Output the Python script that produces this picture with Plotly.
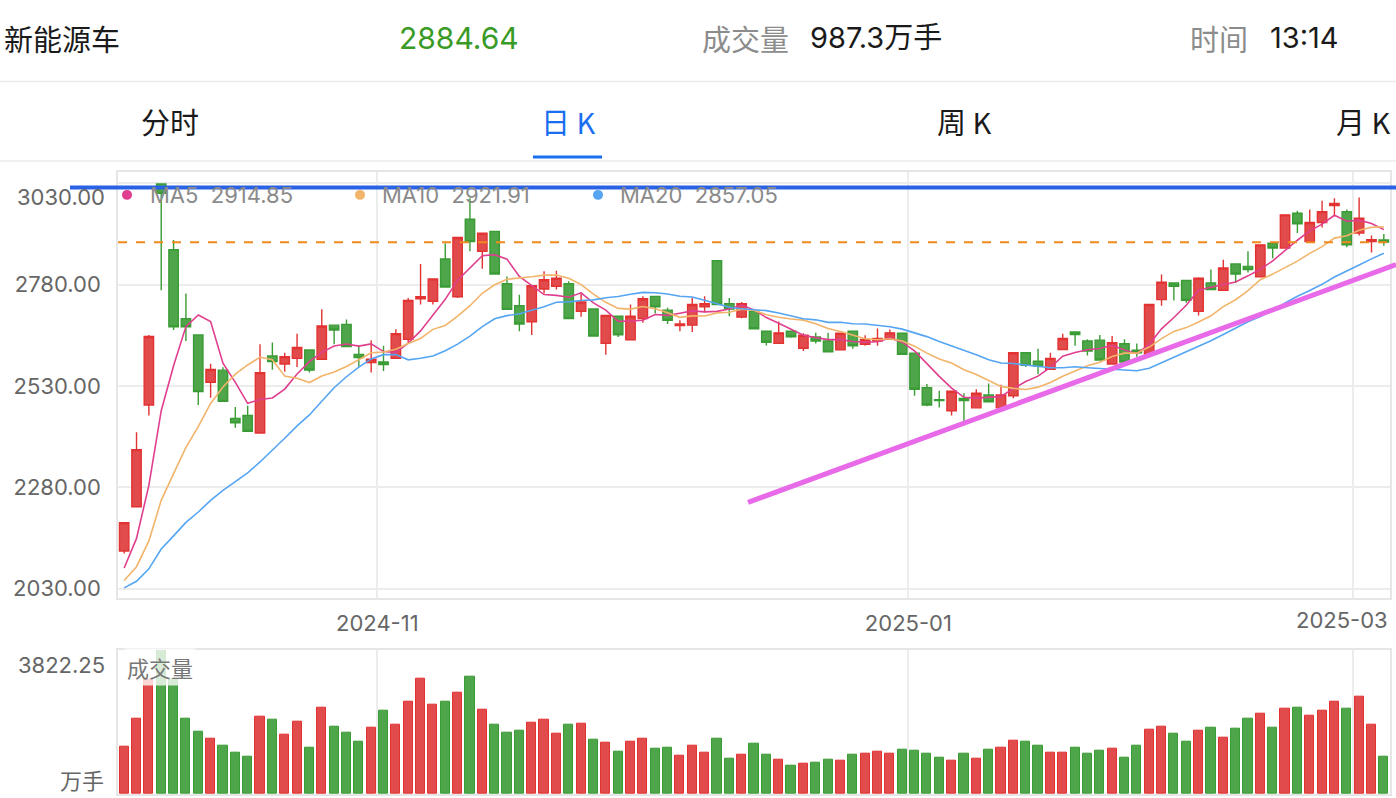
import plotly.graph_objects as go
import pandas as pd

# ---------------- data ----------------
prior_close = [2045, 2040, 2030, 2025, 2010, 2005, 2000, 1995, 1990, 2000,
               2030, 2015, 2005, 2020, 2025, 2008, 1997, 2085, 2122]

open_ = [2123, 2232, 2483, 3028, 2866, 2696, 2656, 2539, 2569, 2450,
         2457, 2414, 2604, 2584, 2598, 2619, 2596, 2680, 2682, 2608,
         2588, 2589, 2598, 2645, 2745, 2739, 2843, 2750, 2941, 2862,
         2911, 2782, 2728, 2688, 2769, 2776, 2782, 2714, 2720, 2635,
         2702, 2644, 2696, 2751, 2717, 2679, 2680, 2725, 2839, 2733,
         2700, 2714, 2665, 2635, 2665, 2623, 2651, 2641, 2619, 2665,
         2633, 2641, 2645, 2660, 2611, 2526, 2496, 2469, 2499, 2476,
         2508, 2476, 2506, 2612, 2591, 2571, 2620, 2663, 2641, 2643,
         2584, 2634, 2618, 2608, 2743, 2784, 2790, 2714, 2784, 2766,
         2831, 2825, 2799, 2882, 2870, 2956, 2886, 2933, 2975, 2960,
         2907, 2886, 2890]
high = [2193, 2416, 2656, 3030, 2890, 2758, 2656, 2585, 2576, 2478,
        2481, 2633, 2637, 2612, 2659, 2619, 2719, 2680, 2694, 2631,
        2643, 2629, 2670, 2747, 2831, 2794, 2882, 2896, 2993, 2907,
        2912, 2800, 2755, 2777, 2813, 2814, 2788, 2761, 2720, 2704,
        2702, 2731, 2751, 2751, 2723, 2692, 2747, 2751, 2839, 2747,
        2737, 2714, 2665, 2689, 2667, 2660, 2661, 2661, 2660, 2667,
        2655, 2672, 2669, 2661, 2611, 2535, 2518, 2517, 2512, 2522,
        2536, 2533, 2614, 2612, 2622, 2612, 2659, 2663, 2645, 2656,
        2653, 2645, 2635, 2731, 2805, 2784, 2790, 2798, 2817, 2841,
        2831, 2862, 2878, 2884, 2952, 2962, 2965, 2987, 2993, 2965,
        2995, 2901, 2905]
low = [2117, 2232, 2457, 2766, 2668, 2641, 2483, 2501, 2492, 2427,
       2418, 2414, 2570, 2565, 2577, 2563, 2596, 2633, 2627, 2577,
       2563, 2567, 2598, 2637, 2731, 2731, 2774, 2747, 2862, 2819,
       2804, 2719, 2665, 2656, 2758, 2768, 2696, 2701, 2653, 2607,
       2651, 2644, 2686, 2709, 2683, 2665, 2663, 2712, 2731, 2702,
       2697, 2671, 2630, 2635, 2649, 2616, 2635, 2614, 2619, 2622,
       2629, 2629, 2645, 2608, 2506, 2480, 2477, 2457, 2441, 2476,
       2491, 2476, 2500, 2577, 2559, 2571, 2620, 2629, 2605, 2594,
       2584, 2589, 2602, 2604, 2728, 2741, 2735, 2704, 2766, 2766,
       2784, 2810, 2799, 2845, 2870, 2907, 2886, 2921, 2948, 2872,
       2901, 2859, 2876]
close = [2193, 2373, 2652, 3005, 2676, 2676, 2516, 2571, 2492, 2439,
         2418, 2563, 2590, 2602, 2625, 2569, 2678, 2668, 2627, 2600,
         2596, 2583, 2659, 2741, 2750, 2794, 2774, 2896, 2886, 2907,
         2806, 2719, 2683, 2777, 2792, 2796, 2696, 2737, 2653, 2704,
         2656, 2702, 2745, 2725, 2692, 2683, 2731, 2733, 2731, 2720,
         2733, 2671, 2638, 2661, 2651, 2655, 2641, 2614, 2660, 2629,
         2645, 2647, 2661, 2608, 2522, 2483, 2494, 2517, 2494, 2512,
         2491, 2508, 2612, 2581, 2579, 2598, 2647, 2657, 2616, 2594,
         2637, 2589, 2612, 2731, 2786, 2776, 2741, 2796, 2768, 2821,
         2806, 2817, 2878, 2870, 2952, 2930, 2933, 2960, 2980, 2878,
         2944, 2891, 2884.64]
volume = [1253, 1986, 3031, 3822.25, 3031, 1986, 1651, 1456, 1289, 1086,
          997, 2039, 1968, 1580, 1907, 1218, 2277, 1774, 1615, 1386,
          1748, 2198, 1827, 2454, 3063, 2374, 2436, 2683, 3098, 2224,
          1827, 1624, 1677, 1880, 1960, 1589, 1836, 1862, 1430, 1350,
          1121, 1386, 1456, 1209, 1236, 1015, 1280, 1103, 1474, 944,
          1042, 1324, 1042, 900, 750, 803, 821, 918, 883, 1042,
          1059, 1130, 1068, 1165, 1156, 1059, 962, 892, 1068, 944,
          1183, 1218, 1403, 1395, 1280, 1086, 1103, 1218, 1059, 1139,
          1192, 962, 1280, 1695, 1774, 1598, 1377, 1677, 1748, 1492,
          1730, 1986, 2118, 1748, 2251, 2277, 2066, 2198, 2454, 2251,
          2569, 1827, 987.3]

month_labels = ["2024-11", "2025-01", "2025-03"]
month_start_idx = [21, 64, 100]
price_ticks = [2030, 2280, 2530, 2780, 3030]
vol_max = 3822.25

ma_periods = [5, 10, 20]
ma_names = ["MA5", "MA10", "MA20"]
ma_last_text = ["2914.85", "2921.91", "2857.05"]

title_name = "新能源车"
last_price = 2884.64
volume_label = "成交量"
volume_text = "987.3万手"
time_label = "时间"
time_text = "13:14"
tabs = ["分时", "日 K", "周 K", "月 K"]

# ---------------- styles ----------------
RED = "#E24B4B"
RED_LINE = "#E23232"
GREEN = "#4FA54A"
GREEN_LINE = "#3A9C35"
MA_COLORS = ["#DF3F8E", "#F2B46A", "#55A5F2"]
GRID = "#ECECEC"
BORDER = "#E6E6E6"
LABEL = "#666666"
FONT = "Inter, 'Noto Sans CJK SC', sans-serif"
CJK = "'Noto Sans CJK SC', Inter, sans-serif"

L, R, T, B = 118, 1390, 172, 797
W, H = R - L, B - T


def px(x):
    return (x - L) / W


def py(y):
    return (B - y) / H


n = len(close)
xs = list(range(n))

allc = pd.Series(prior_close + close)
mas = [allc.rolling(p).mean().iloc[len(prior_close):].tolist() for p in ma_periods]

fig = go.Figure()
fig.add_trace(go.Candlestick(
    x=xs, open=open_, high=high, low=low, close=close,
    increasing=dict(line=dict(color=RED_LINE, width=1.4), fillcolor=RED),
    decreasing=dict(line=dict(color=GREEN_LINE, width=1.4), fillcolor=GREEN),
    whiskerwidth=0, showlegend=False, xaxis="x", yaxis="y"))

for m, c in zip(mas, MA_COLORS):
    fig.add_trace(go.Scatter(x=xs, y=m, mode="lines", line=dict(color=c, width=1.6),
                             showlegend=False, xaxis="x", yaxis="y"))

up = [c >= o for o, c in zip(open_, close)]
fig.add_trace(go.Bar(
    x=xs, y=volume, width=0.74,
    marker=dict(color=[RED if u else GREEN for u in up],
                line=dict(color=[RED_LINE if u else GREEN_LINE for u in up], width=1)),
    showlegend=False, xaxis="x2", yaxis="y2"))

tickvals = [i - 0.5 for i in month_start_idx]
ticktext = month_labels[:-1] + [""]

fig.update_layout(
    width=1396, height=798,
    margin=dict(l=L, r=1396 - R, t=T, b=798 - B),
    paper_bgcolor="white", plot_bgcolor="white",
    hovermode=False, bargap=0, boxgap=0.24, boxgroupgap=0,
    font=dict(family=FONT, size=22, color=LABEL),
    xaxis=dict(domain=[0, 1], anchor="y", range=[-0.5, n - 0.5],
               tickvals=tickvals, ticktext=ticktext, ticks="",
               ticklabelstandoff=5, tickfont=dict(size=22, color=LABEL),
               showgrid=True, gridcolor=GRID, gridwidth=1.5, zeroline=False,
               showline=True, mirror=True, linecolor=BORDER, linewidth=1.5,
               rangeslider=dict(visible=False)),
    yaxis=dict(domain=[py(600), 1], range=[2007.2, 3057.7],
               tickvals=price_ticks, ticktext=["%.2f" % v for v in price_ticks[:-1]] + [""],
               ticks="", ticklabelstandoff=11, tickfont=dict(size=22, color=LABEL),
               showgrid=True, gridcolor=GRID, gridwidth=1.5, zeroline=False,
               showline=True, mirror=True, linecolor=BORDER, linewidth=1.5),
    xaxis2=dict(domain=[0, 1], anchor="y2", range=[-0.5, n - 0.5],
                tickvals=tickvals, showticklabels=False, ticks="",
                showgrid=True, gridcolor=GRID, gridwidth=1.5, zeroline=False,
                showline=True, mirror=True, linecolor=BORDER, linewidth=1.5),
    yaxis2=dict(domain=[0, py(652)], range=[0, vol_max], showticklabels=False,
                showgrid=False, zeroline=False, ticks="",
                showline=True, mirror=True, linecolor=BORDER, linewidth=1.5),
)

shapes = []
# separators and tab underline
for yy in (81, 161):
    shapes.append(dict(type="line", xref="paper", yref="paper", x0=px(0), x1=px(1396),
                       y0=py(yy), y1=py(yy), line=dict(color="#EBEBEB", width=1.5)))
shapes.append(dict(type="line", xref="paper", yref="paper", x0=px(533), x1=px(602),
                   y0=py(157), y1=py(157), line=dict(color="#1A6EF0", width=3)))
# current price dashed line
shapes.append(dict(type="line", xref="x", yref="y", x0=-0.5, x1=n - 0.5,
                   y0=last_price, y1=last_price,
                   line=dict(color="#F08A1E", width=2, dash="dash"), layer="above"))
# blue horizontal resistance line
shapes.append(dict(type="line", xref="paper", yref="paper", x0=px(70), x1=px(1396),
                   y0=py(187.5), y1=py(187.5), line=dict(color="#2A62E6", width=4), layer="above"))
# violet trend line
shapes.append(dict(type="line", xref="paper", yref="paper", x0=px(748), x1=px(1396),
                   y0=py(504), y1=py(265), line=dict(color="#E86AE8", width=5), layer="above"))
# legend dots
for cx, c in zip((127, 360, 598), MA_COLORS):
    shapes.append(dict(type="circle", xref="paper", yref="paper",
                       x0=px(cx - 5), x1=px(cx + 5), y0=py(200), y1=py(190),
                       fillcolor=c, line=dict(width=0), layer="above"))
fig.update_layout(shapes=shapes)

ann = []


def text(x, y, s, color="#1A1A1A", size=22, xanchor="left", family=FONT, **kw):
    ann.append(dict(x=px(x), y=py(y), xref="paper", yref="paper", text=s, showarrow=False,
                    xanchor=xanchor, yanchor="middle", font=dict(family=family, size=size, color=color), **kw))


# header
text(2, 37, title_name, size=29, family=CJK)
text(397, 37, "%.2f" % last_price, color="#3A9A26", size=30)
text(700, 37, volume_label, color="#8C8C8C", size=29, family=CJK)
text(808, 37, volume_text, size=29)
text(1188, 37, time_label, color="#8C8C8C", size=29, family=CJK)
text(1268, 37, time_text, size=29)
for cx, t in zip((170, 568, 964, 1363), tabs):
    text(cx, 121, t, color="#1A6EF0" if t.startswith("日") else "#1A1A1A", size=29,
         xanchor="center", family=CJK)

# legend
for x0, name, val in zip((148, 380, 618), ma_names, ma_last_text):
    text(x0, 195, name + "  " + val, color="#8A8A8A", size=22)

# special axis labels
text(107, 197, "%.2f" % price_ticks[-1], color=LABEL, size=22, xanchor="right")
text(1390, 622, month_labels[-1], color=LABEL, size=22, xanchor="right")
text(107, 667, "%.2f" % vol_max, color=LABEL, size=22, xanchor="right")
text(106, 782, "万手", color=LABEL, size=22, xanchor="right", family=CJK)
text(124, 669, volume_label, color="#777777", size=22, family=CJK,
     bgcolor="rgba(255,255,255,0.78)", borderpad=2)

fig.update_layout(annotations=ann)
fig.write_html("out.html")
